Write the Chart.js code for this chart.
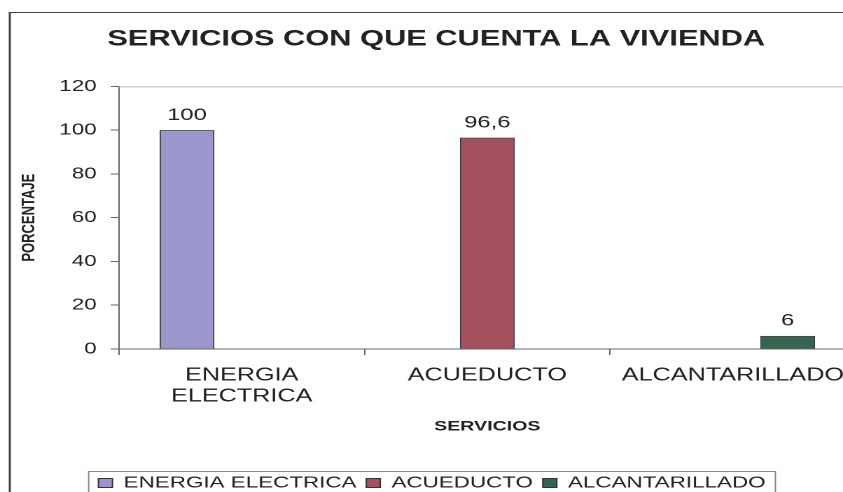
<!DOCTYPE html>
<html>
<head>
<meta charset="utf-8">
<script src="https://cdn.jsdelivr.net/npm/chart.js@4"></script>
<style>
  html, body { margin: 0; padding: 0; background: #fff; overflow: hidden; }
  #wrap { width: 843px; height: 492px; overflow: hidden; }
</style>
</head>
<body>
<!-- the original picture is a stretched excel chart: draw narrow, show wide -->
<div id="wrap"><canvas id="grafico" width="622" height="510" style="width:871px;height:510px"></canvas></div>
<script>
const categorias = [['ENERGIA', 'ELECTRICA'], 'ACUEDUCTO', 'ALCANTARILLADO'];
const energia = [100, null, null];
const acueducto = [null, 96.6, null];
const alcantarillado = [null, null, 6];
const ticksY = [0, 20, 40, 60, 80, 100, 120];

const fuente = "'Liberation Sans', Arial, sans-serif";
const gris = '#666';

// marco del grafico, borde superior del area y caja de la leyenda
const marco = {
  id: 'marco',
  afterLayout(chart) {
    chart.legend.left -= 3;
    chart.legend.right -= 3;
  },
  afterDraw(chart) {
    const ctx = chart.ctx;
    const a = chart.chartArea;
    ctx.save();
    ctx.strokeStyle = '#444';
    ctx.lineWidth = 1;
    ctx.beginPath();
    ctx.moveTo(6.4, 12.5);
    ctx.lineTo(chart.width, 12.5);
    ctx.stroke();
    ctx.lineWidth = 1.5;
    ctx.beginPath();
    ctx.moveTo(7, 12);
    ctx.lineTo(7, chart.height);
    ctx.stroke();

    ctx.strokeStyle = '#bbb';
    ctx.lineWidth = 1;
    ctx.beginPath();
    ctx.moveTo(a.left, a.top + 0.5);
    ctx.lineTo(a.right, a.top + 0.5);
    ctx.stroke();

    const cajas = chart.legend.legendHitBoxes;
    if (cajas.length) {
      const x0 = cajas[0].left - 7;
      const ult = cajas[cajas.length - 1];
      const x1 = ult.left + ult.width + 7;
      const y0 = cajas[0].top - 4;
      ctx.strokeStyle = '#888';
      ctx.strokeRect(x0, y0 + 0.5, x1 - x0, chart.height);
    }
    ctx.restore();
  }
};

// valores encima de las barras
const etiquetas = {
  id: 'etiquetas',
  afterDatasetsDraw(chart) {
    const ctx = chart.ctx;
    ctx.save();
    ctx.font = '17px ' + fuente;
    ctx.fillStyle = '#222';
    ctx.textAlign = 'center';
    ctx.textBaseline = 'middle';
    chart.data.datasets.forEach((ds, i) => {
      chart.getDatasetMeta(i).data.forEach((bar, j) => {
        const v = ds.data[j];
        if (v == null) return;
        ctx.fillText(String(v).replace('.', ','), bar.x, bar.y - 15);
      });
    });
    ctx.restore();
  }
};

new Chart(document.getElementById('grafico'), {
  type: 'bar',
  data: {
    labels: categorias,
    datasets: [
      { label: 'ENERGIA ELECTRICA', data: energia, backgroundColor: '#9b96cb', borderColor: '#333', borderWidth: 1 },
      { label: 'ACUEDUCTO', data: acueducto, backgroundColor: '#a5505f', borderColor: '#333', borderWidth: 1 },
      { label: 'ALCANTARILLADO', data: alcantarillado, backgroundColor: '#356450', borderColor: '#333', borderWidth: 1 }
    ]
  },
  options: {
    responsive: false,
    animation: false,
    devicePixelRatio: 2,
    layout: { padding: { left: 12, right: 11, top: 12, bottom: 9 } },
    datasets: { bar: { categoryPercentage: 0.67, barPercentage: 1, skipNull: false } },
    plugins: {
      title: {
        display: true,
        text: 'SERVICIOS CON QUE CUENTA LA VIVIENDA',
        color: '#222',
        font: { family: fuente, size: 22, weight: 'bold' },
        padding: { top: 14, bottom: 34 }
      },
      legend: {
        position: 'bottom',
        labels: {
          color: '#222',
          font: { family: fuente, size: 16 },
          boxWidth: 10,
          boxHeight: 9,
          padding: 7
        }
      },
      tooltip: { enabled: false }
    },
    scales: {
      x: {
        afterFit(s) { s.height = 119; },
        grid: { drawOnChartArea: false, tickLength: 6, color: gris },
        border: { color: gris },
        ticks: { color: '#222', padding: 10, font: { family: fuente, size: 18, lineHeight: 1.17 } },
        title: {
          display: true, text: 'SERVICIOS', color: '#222',
          font: { family: fuente, size: 14, weight: 'bold' },
          padding: { top: 0, bottom: 33 }
        }
      },
      y: {
        min: ticksY[0],
        max: ticksY[ticksY.length - 1],
        afterFit(s) { s.width = 73; },
        afterBuildTicks(s) { s.ticks = ticksY.map(v => ({ value: v })); },
        grid: { drawOnChartArea: false, tickLength: 6, color: gris },
        border: { color: gris },
        ticks: { color: '#222', padding: 10, font: { family: fuente, size: 16 } },
        title: {
          display: true, text: 'PORCENTAJE', color: '#222',
          font: { family: fuente, size: 13, weight: 'bold' },
          padding: { top: 1, bottom: 0 }
        }
      }
    }
  },
  plugins: [marco, etiquetas]
});
</script>
</body>
</html>
